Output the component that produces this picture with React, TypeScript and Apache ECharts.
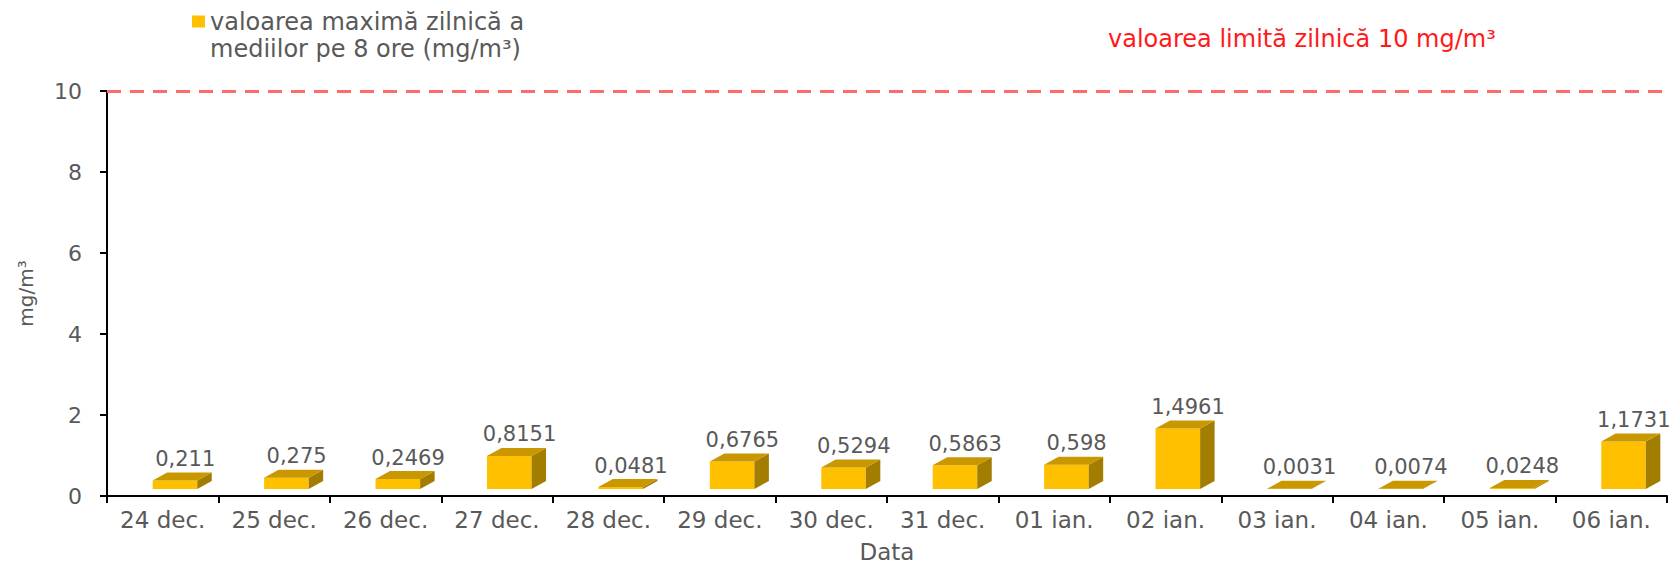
import React, { useEffect, useRef } from "react";
import * as echarts from "echarts";

const categories = [
  "24 dec.", "25 dec.", "26 dec.", "27 dec.", "28 dec.", "29 dec.", "30 dec.",
  "31 dec.", "01 ian.", "02 ian.", "03 ian.", "04 ian.", "05 ian.", "06 ian.",
];
const values = [
  0.211, 0.275, 0.2469, 0.8151, 0.0481, 0.6765, 0.5294,
  0.5863, 0.598, 1.4961, 0.0031, 0.0074, 0.0248, 1.1731,
];
const yTicks = { min: 0, max: 10, interval: 2 };
const limitValue = 10;
const seriesName = "valoarea maximă zilnică a\nmediilor pe 8 ore (mg/m³)";
const limitText = "valoarea limită zilnică 10 mg/m³";
const yName = "mg/m³";
const xName = "Data";

const FONT = "DejaVu Sans";
const GRAY = "#595959";

export default function App() {
  const ref = useRef<HTMLDivElement>(null);
  useEffect(() => {
    if (!ref.current) return;
    const chart = echarts.init(ref.current, undefined, { renderer: "svg" });
    const option: any = {
      animation: false,
      backgroundColor: "#ffffff",
      textStyle: { fontFamily: FONT },
      title: {
        text: limitText,
        left: 1108,
        top: 27,
        padding: 0,
        textStyle: { color: "#FF1A1A", fontSize: 24, fontWeight: "normal", fontFamily: FONT },
      },
      legend: {
        left: 192,
        top: -19,
        padding: 0,
        icon: "rect",
        itemWidth: 13,
        itemHeight: 12,
        selectedMode: false,
        formatter: (n: string) => " \n" + n,
        data: [{ name: seriesName, itemStyle: { color: "#FFC000" } }],
        textStyle: {
          color: GRAY,
          fontSize: 24,
          fontFamily: FONT,
          lineHeight: 27,
        },
      },
      grid: {
        left: 107,
        right: 6,
        top: 91,
        bottom: 68,
        containLabel: false,
        outerBoundsMode: "none",
      },
      xAxis: {
        type: "category",
        data: categories,
        boundaryGap: true,
        name: xName,
        nameLocation: "middle",
        nameGap: 45,
        nameTextStyle: { color: GRAY, fontSize: 23, fontFamily: FONT, lineHeight: 22 },
        axisLine: { lineStyle: { color: "#000", width: 2 } },
        axisTick: { show: true, length: 7, alignWithLabel: false, lineStyle: { color: "#000", width: 2 } },
        axisLabel: { color: GRAY, fontSize: 23, fontFamily: FONT, margin: 12 },
        splitLine: { show: false },
      },
      yAxis: {
        type: "value",
        min: yTicks.min,
        max: yTicks.max,
        interval: yTicks.interval,
        name: yName,
        nameLocation: "middle",
        nameGap: 71,
        nameRotate: 90,
        nameTextStyle: { color: GRAY, fontSize: 20, fontFamily: FONT },
        axisLine: { show: true, lineStyle: { color: "#000", width: 2 } },
        axisTick: { show: true, length: 7, lineStyle: { color: "#000", width: 2 } },
        axisLabel: { color: GRAY, fontSize: 22, fontFamily: FONT, margin: 25 },
        splitLine: { show: false },
      },
      series: [
        {
          name: seriesName,
          type: "custom",
          itemStyle: { color: "#FFC000" },
          data: values.map((v, i) => [i, v]),
          encode: { x: 0, y: 1 },
          renderItem: (params: any, api: any) => {
            const idx = api.value(0);
            const v = api.value(1);
            const base = api.coord([idx, 0]);
            const top = api.coord([idx, v]);
            const w = api.size([1, 0])[0];
            const left = base[0] - w / 2 + 0.41 * w;
            const fw = 0.4 * w;
            const dx = 0.13 * w;
            const dy = 8;
            const lift = 7;
            const yb = base[1] - lift;
            const yt = top[1] - lift;
            const label = String(values[params.dataIndex]).replace(".", ",");
            return {
              type: "group",
              children: [
                {
                  type: "rect",
                  shape: { x: left, y: yt, width: fw, height: Math.max(yb - yt, 0) },
                  style: { fill: "#FFC000" },
                },
                {
                  type: "polygon",
                  shape: {
                    points: [
                      [left + fw, yt],
                      [left + fw + dx, yt - dy],
                      [left + fw + dx, yb - dy],
                      [left + fw, yb],
                    ],
                  },
                  style: { fill: "#A37D00" },
                },
                {
                  type: "polygon",
                  shape: {
                    points: [
                      [left, yt],
                      [left + dx, yt - dy],
                      [left + fw + dx, yt - dy],
                      [left + fw, yt],
                    ],
                  },
                  style: { fill: "#C99700" },
                },
                {
                  type: "text",
                  x: left + (fw + dx) / 2 + 3,
                  y: yt - dy - 3,
                  style: {
                    text: label,
                    fill: GRAY,
                    fontSize: 21,
                    fontFamily: FONT,
                    align: "center",
                    verticalAlign: "bottom",
                    textAlign: "center",
                    textVerticalAlign: "bottom",
                  },
                },
              ],
            };
          },
          markLine: {
            silent: true,
            symbol: ["none", "none"],
            label: { show: false },
            lineStyle: { color: "#FF6B6B", type: [14, 9], width: 3 },
            data: [{ yAxis: limitValue }],
          },
        },
      ],
    };
    chart.setOption(option);
    return () => chart.dispose();
  }, []);
  return (
    <div
      ref={ref}
      style={{ position: "fixed", left: 0, top: 0, width: 1673, height: 564 }}
    />
  );
}
